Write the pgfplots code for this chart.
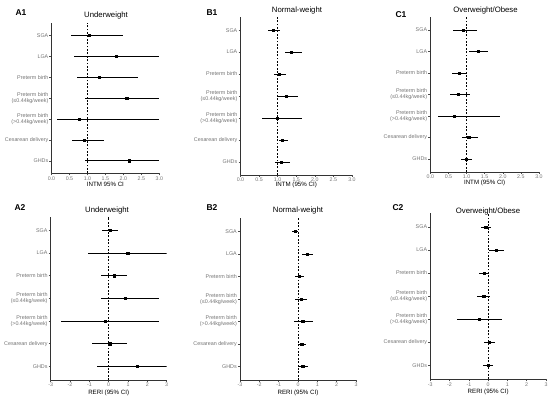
\documentclass[border=0pt]{standalone}
\usepackage{pgfplots}
\pgfplotsset{compat=1.18}
\usepackage{pgfplotstable}
\usepackage{fontspec}
\setmainfont{Liberation Sans}

\pgfplotstableread{
y e l h
7 1.04 0.54 2.00
6 1.79 0.62 3.00
5 1.32 0.72 2.40
4 2.09 0.92 3.00
3 0.77 0.14 3.00
2 0.92 0.58 1.47
1 2.16 0.93 3.00
}\Aone
\pgfplotstableread{
y e l h
7 0.87 0.73 1.07
6 1.37 1.19 1.65
5 1.04 0.91 1.23
4 1.22 0.98 1.54
3 0.99 0.59 1.65
2 1.12 1.03 1.27
1 1.10 0.93 1.34
}\Bone
\pgfplotstableread{
y e l h
7 0.90 0.63 1.29
6 1.33 1.07 1.59
5 0.80 0.61 1.02
4 0.77 0.54 1.09
3 0.65 0.22 1.91
2 1.06 0.87 1.32
1 0.98 0.84 1.16
}\Cone
\pgfplotstableread{
y e l h
7 0.07 -0.33 0.47
6 0.98 -1.09 3.00
5 0.29 -0.38 0.95
4 0.86 -0.38 2.59
3 -0.19 -2.48 2.59
2 0.05 -0.84 0.97
1 1.48 -0.60 3.00
}\Atwo
\pgfplotstableread{
y e l h
7 -0.14 -0.29 0.02
6 0.47 0.21 0.79
5 0.07 -0.14 0.31
4 0.16 -0.14 0.48
3 0.24 -0.22 0.76
2 0.19 0.07 0.40
1 0.24 0.00 0.53
}\Btwo
\pgfplotstableread{
y e l h
7 -0.13 -0.39 0.15
6 0.41 0.04 0.82
5 -0.20 -0.48 0.04
4 -0.23 -0.58 0.11
3 -0.46 -1.62 0.72
2 0.06 -0.23 0.37
1 0.01 -0.25 0.27
}\Ctwo

\pgfplotsset{
  forest/.style={
    scale only axis,
    anchor=south west,
    axis x line*=bottom, axis y line*=left,
    axis line style={-, line width=0.55bp, black!80},
    tick align=outside,
    major tick length=2bp,
    tick style={line width=0.45bp, black!70},
    ymin=0.4, ymax=7.6,
    ytick={1,2,3,4,5,6,7},
    yticklabels={GHDs,Cesarean delivery,{Preterm birth\\(>0.44kg/week)},{Preterm birth\\(≤0.44kg/week)},Preterm birth,LGA,SGA},
    yticklabel style={font=\fontsize{5.4}{6}\selectfont, text=black!55, align=right, inner sep=1bp},
    xticklabel style={font=\fontsize{5.3}{6}\selectfont, text=black!55, inner sep=1bp},
    /pgf/number format/assume math mode=true,
    xlabel style={font=\fontsize{6.2}{7}\selectfont, at={(axis description cs:0.5,0)}, anchor=center, yshift=-11bp},
    clip=true,
  },
  intm/.style={xmin=0, xmax=3, xtick={0,0.5,...,3}, xticklabel={\pgfmathprintnumber[fixed,fixed zerofill,precision=1]{\tick}}},
  reri/.style={xmin=-3, xmax=3, xtick={-3,-2,...,3}, xlabel={RERI (95\% CI)}, xlabel style={yshift=-1.5bp}},
  ci/.style={black, only marks, mark=square*, mark size=1.1bp,
    error bars/.cd, x dir=both, x explicit, error mark=none,
    error bar style={line width=0.6bp, black}},
  refline/.style={black, line width=0.6bp, dash pattern=on 1.8bp off 1.6bp},
}
\newcommand{\ciplot}[1]{\addplot[ci] table[x=e, y=y, x error minus expr=\thisrow{e}-\thisrow{l}, x error plus expr=\thisrow{h}-\thisrow{e}] {#1};}

\begin{document}
\begin{tikzpicture}
\path[use as bounding box] (0,0) rectangle (550bp,399bp);

% Row 1
\begin{axis}[forest, intm, at={(51.5bp,225.7bp)}, width=107.8bp, height=150.6bp, xlabel={INTM 95\% CI}]
\addplot[refline] coordinates {(1,0.4) (1,7.6)};
\ciplot{\Aone}
\end{axis}
\begin{axis}[forest, intm, at={(240.5bp,224bp)}, width=111.5bp, height=158bp, xlabel={INTM (95\% CI)}, xlabel style={yshift=1bp}]
\addplot[refline] coordinates {(1,0.4) (1,7.6)};
\ciplot{\Bone}
\end{axis}
\begin{axis}[forest, intm, at={(430.3bp,227bp)}, width=108.7bp, height=155bp, xlabel={INTM (95\% CI)}]
\addplot[refline] coordinates {(1,0.4) (1,7.6)};
\ciplot{\Cone}
\end{axis}

% Row 2
\begin{axis}[forest, reri, at={(50.7bp,19bp)}, width=116bp, height=163.3bp]
\addplot[refline] coordinates {(0,0.4) (0,7.6)};
\ciplot{\Atwo}
\end{axis}
\begin{axis}[forest, reri, at={(240bp,19bp)}, width=116bp, height=162bp]
\addplot[refline] coordinates {(0,0.4) (0,7.6)};
\ciplot{\Btwo}
\end{axis}
\begin{axis}[forest, reri, at={(430.3bp,19.7bp)}, width=115.7bp, height=166.3bp]
\addplot[refline] coordinates {(0,0.4) (0,7.6)};
\ciplot{\Ctwo}
\end{axis}

% Titles
\begin{scope}[every node/.style={font=\fontsize{7.8}{9}\selectfont, inner sep=0pt}]
\node at (106bp,384bp) {Underweight};
\node at (297bp,389bp) {Normal-weight};
\node at (485.5bp,389bp) {Overweight/Obese};
\node at (107bp,188.5bp) {Underweight};
\node at (298bp,188.5bp) {Normal-weight};
\node at (488bp,188bp) {Overweight/Obese};
\end{scope}
\begin{scope}[every node/.style={font=\fontsize{8.5}{10}\selectfont\bfseries, inner sep=0pt}]
\node at (21bp,386bp) {A1};
\node at (212bp,386bp) {B1};
\node at (401bp,384.5bp) {C1};
\node at (20bp,191.5bp) {A2};
\node at (212bp,191bp) {B2};
\node at (398bp,191bp) {C2};
\end{scope}
\end{tikzpicture}
\end{document}
